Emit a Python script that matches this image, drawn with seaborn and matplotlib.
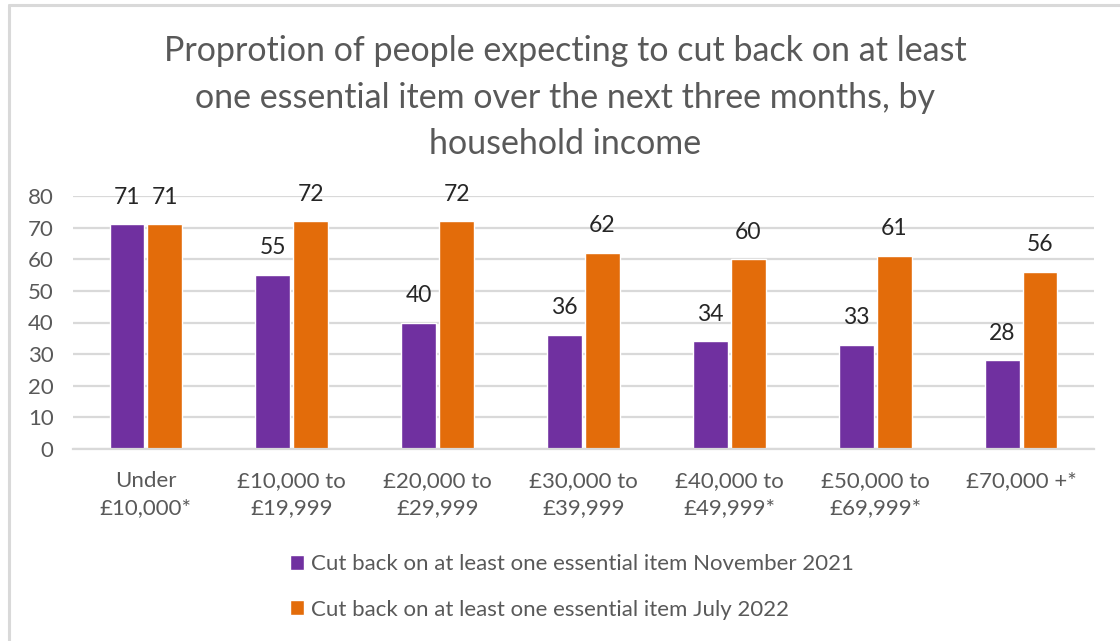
import matplotlib
matplotlib.use("Agg")
import matplotlib.pyplot as plt
from matplotlib.lines import Line2D
import pandas as pd
import seaborn as sns

# Household income bands and survey results (%)
income_bands = [
    "Under\n£10,000*",
    "£10,000 to\n£19,999",
    "£20,000 to\n£29,999",
    "£30,000 to\n£39,999",
    "£40,000 to\n£49,999*",
    "£50,000 to\n£69,999*",
    "£70,000 +*",
]
nov_2021 = [71, 55, 40, 36, 34, 33, 28]
jul_2022 = [71, 72, 72, 62, 60, 61, 56]
series_names = [
    "Cut back on at least one essential item November 2021",
    "Cut back on at least one essential item July 2022",
]
y_ticks = [0, 10, 20, 30, 40, 50, 60, 70, 80]

title = ("Proprotion of people expecting to cut back on at least\n"
         "one essential item over the next three months, by\n"
         "household income")

df = pd.DataFrame({
    "band": income_bands * 2,
    "value": nov_2021 + jul_2022,
    "series": [series_names[0]] * len(income_bands) + [series_names[1]] * len(income_bands),
})

sns.set_theme(style="white")
plt.rcParams["font.family"] = ["Lato", "DejaVu Sans"]

colors = {series_names[0]: "#7030A0", series_names[1]: "#E36C0A"}
text_grey = "#595959"
grid_grey = "#D9D9D9"

fig = plt.figure(figsize=(11.2, 6.41), dpi=100)
ax = fig.add_axes([73 / 1120, 1 - 449 / 641, (1094 - 73) / 1120, (449 - 196) / 641])

sns.barplot(data=df, x="band", y="value", hue="series", order=income_bands,
            hue_order=series_names, palette=colors, width=0.52, gap=0.08,
            saturation=1, ax=ax, legend=True)

for container in ax.containers:
    ax.bar_label(container, fmt="%d", padding=12, fontsize=16.5, color="#262626")

ax.set_ylim(0, 80)
ax.set_yticks(y_ticks)
ax.set_xlim(-0.5, len(income_bands) - 0.5)
ax.yaxis.grid(True, color=grid_grey, linewidth=1.6)
ax.set_axisbelow(True)
for side in ["top", "right", "left"]:
    ax.spines[side].set_visible(False)
ax.spines["bottom"].set_color(grid_grey)
ax.spines["bottom"].set_linewidth(1.6)
ax.tick_params(axis="both", length=0, labelsize=16, labelcolor=text_grey)
ax.tick_params(axis="x", pad=16)
ax.tick_params(axis="y", pad=14)
for lbl in ax.get_xticklabels():
    lbl.set_linespacing(1.4)
ax.set_xlabel("")
ax.set_ylabel("")

handles, labels = ax.get_legend_handles_labels()
ax.get_legend().remove()
fig.legend(handles, labels, loc="upper left", bbox_to_anchor=(270 / 1120, 1 - 534 / 641),
           frameon=False, fontsize=16, labelcolor=text_grey, handlelength=0.65,
           handleheight=0.65, handletextpad=0.3, labelspacing=1.15)

fig.text(565 / 1120, 1 - 35 / 641, title, ha="center", va="top", fontsize=24.5,
         color=text_grey, linespacing=1.56)

# Chart area frame edges
fig.add_artist(Line2D([9 / 1120, 1], [1 - 5 / 641, 1 - 5 / 641], color="#D9D9D9", linewidth=2.2))
fig.add_artist(Line2D([9 / 1120, 9 / 1120], [0, 1 - 5 / 641], color="#D9D9D9", linewidth=2.2))

fig.savefig("out.png", dpi=100)
